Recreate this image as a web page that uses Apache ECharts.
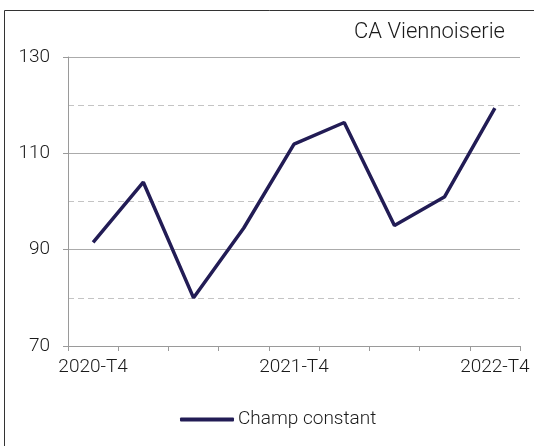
<!DOCTYPE html>
<html lang="fr">
<head>
    <meta charset="UTF-8">
    <title>CA Viennoiserie</title>
    <style>
        html, body { margin: 0; padding: 0; background: #fff; }
    </style>
</head>
<body>
<div id="main" style="width: 534px;height:446px;"></div>
<script src="https://cdn.jsdelivr.net/npm/echarts@6/dist/echarts.min.js"></script>
<script>
    // données
    var trimestres = ['2020-T4', '2021-T1', '2021-T2', '2021-T3', '2021-T4',
        '2022-T1', '2022-T2', '2022-T3', '2022-T4'];
    var champConstant = [91.5, 104.0, 80.0, 94.5, 111.9, 116.4, 95.0, 101.0, 119.4];

    var police = 'Roboto, "Noto Sans", sans-serif';
    var myChart = echarts.init(document.getElementById('main'));

    option = {
        animation: false,
        title: {
            text: 'CA Viennoiserie',
            right: 24,
            top: 16,
            textStyle: {
                fontFamily: police,
                fontSize: 22,
                fontWeight: 300,
                color: '#1a1a1a'
            }
        },
        graphic: [
            {
                type: 'rect',
                shape: { x: 4.5, y: 10.5, width: 600, height: 600 },
                style: { fill: 'none', stroke: '#333', lineWidth: 1 },
                silent: true
            }
        ],
        legend: {
            data: ['Champ constant'],
            left: 175,
            top: 405,
            itemWidth: 54,
            itemHeight: 4,
            itemGap: 4,
            icon: 'roundRect',
            textStyle: {
                fontFamily: police,
                fontSize: 19,
                fontWeight: 300,
                color: '#1a1a1a',
                padding: [0, 0, 0, -1]
            }
        },
        grid: {
            left: 68,
            right: 14,
            top: 57,
            bottom: 100
        },
        xAxis: {
            type: 'category',
            data: trimestres,
            boundaryGap: true,
            axisLine: { lineStyle: { color: '#9a9a9a' } },
            axisTick: {
                show: true,
                interval: 0,
                length: 5,
                lineStyle: { color: '#9a9a9a' }
            },
            axisLabel: {
                interval: 3,
                margin: 12,
                fontFamily: police,
                fontSize: 19,
                fontWeight: 300,
                color: '#1a1a1a'
            },
            splitLine: { show: false }
        },
        yAxis: {
            type: 'value',
            min: 70,
            max: 130,
            interval: 20,
            axisLine: { show: true, lineStyle: { color: '#9a9a9a' } },
            axisTick: { show: true, length: 5, lineStyle: { color: '#9a9a9a' } },
            axisLabel: {
                margin: 18,
                fontFamily: police,
                fontSize: 19,
                fontWeight: 300,
                color: '#1a1a1a'
            },
            splitLine: { show: true, lineStyle: { color: '#ababab', width: 1 } },
            minorTick: { show: false, splitNumber: 2 },
            minorSplitLine: {
                show: true,
                lineStyle: { color: '#c4c4c4', type: [6, 4], width: 1 }
            }
        },
        series: [
            {
                name: 'Champ constant',
                type: 'line',
                data: champConstant,
                symbol: 'none',
                lineStyle: { color: '#221c55', width: 3.5 },
                itemStyle: { color: '#221c55' }
            }
        ]
    };

    myChart.setOption(option);
</script>
</body>
</html>
